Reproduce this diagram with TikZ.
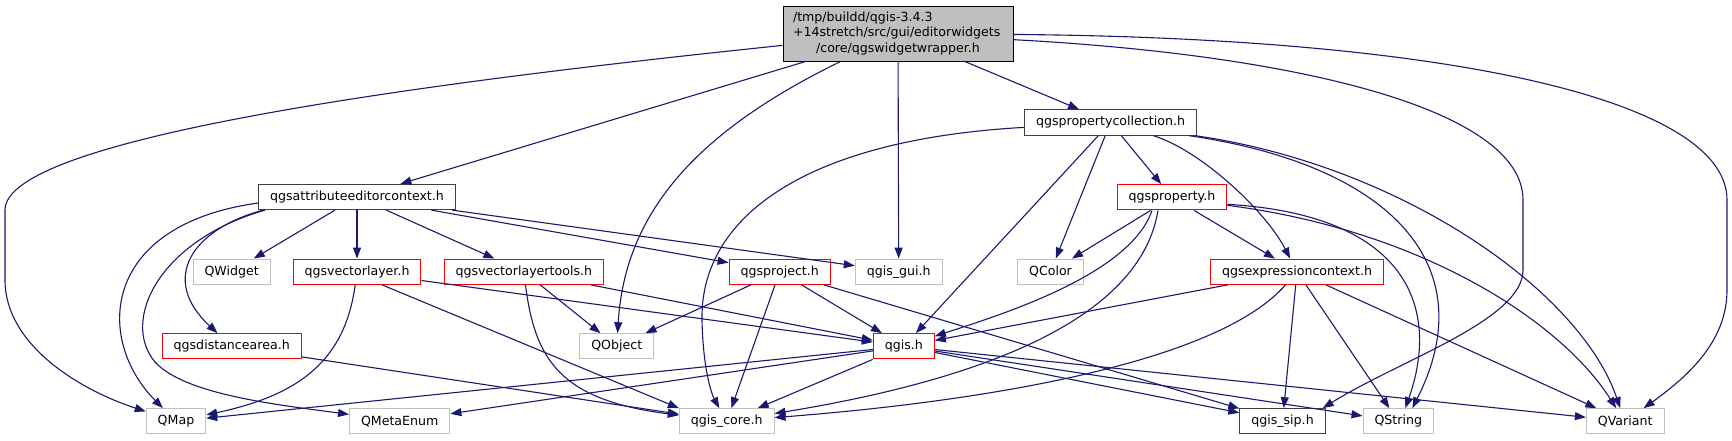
\documentclass[tikz,border=0pt]{standalone}
\usepackage{fontspec}
\setmainfont{DejaVu Sans}
\usetikzlibrary{arrows.meta}
\definecolor{edgeblue}{HTML}{191970}
\definecolor{boxgray}{HTML}{BFBFBF}
\definecolor{boxdark}{HTML}{404040}
\begin{document}
\begin{tikzpicture}[x=1pt,y=-1pt,
  filebox/.style={draw,fill=white,line width=1pt,inner xsep=11.5pt,inner ysep=0pt,minimum height=25.3pt,font=\fontsize{12.6}{15.5}\selectfont},
  gbox/.style={filebox,draw=boxgray},
  rbox/.style={filebox,draw=red},
  kbox/.style={filebox,draw=boxdark},
  incl/.style={draw=edgeblue,line width=1.1pt,-{Triangle[length=11pt,width=8pt]}}]
\useasboundingbox (0,0) rectangle (1732,440);
% files
\node[kbox,fill=boxgray,draw=black,align=left,text width=210pt,inner xsep=10pt,minimum height=55pt] (wrap) at (898,33.5) {/tmp/buildd/qgis-3.4.3\\+14stretch/src/gui/editorwidgets\\\makebox[210pt]{/core/qgswidgetwrapper.h}};
\node[kbox] (propcoll) at (1110.5,122.5) {qgspropertycollection.h};
\node[kbox] (attrctx) at (357,197) {qgsattributeeditorcontext.h};
\node[rbox] (prop) at (1172,197.3) {qgsproperty.h};
\node[gbox] (qwidget) at (231.7,271.7) {QWidget};
\node[rbox] (vlayer) at (357,271.7) {qgsvectorlayer.h};
\node[rbox] (vltools) at (523.8,271.7) {qgsvectorlayertools.h};
\node[rbox] (project) at (779.7,271.7) {qgsproject.h};
\node[gbox] (qgisgui) at (898.7,271.7) {qgis\_gui.h};
\node[gbox] (qcolor) at (1050.5,271.7) {QColor};
\node[rbox] (exprctx) at (1297,271.7) {qgsexpressioncontext.h};
\node[rbox] (distarea) at (231.7,346.3) {qgsdistancearea.h};
\node[gbox] (qobject) at (616.8,346.3) {QObject};
\node[rbox] (qgish) at (903.8,346.3) {qgis.h};
\node[gbox] (qmap) at (176,421.3) {QMap};
\node[gbox] (qmetaenum) at (399.7,421.3) {QMetaEnum};
\node[gbox] (qgiscore) at (726.7,421.3) {qgis\_core.h};
\node[kbox] (qgissip) at (1282.5,421.3) {qgis\_sip.h};
\node[gbox] (qstring) at (1398.3,421.3) {QString};
\node[gbox] (qvariant) at (1625.2,421.3) {QVariant};
% straight includes
\foreach \a/\b in {wrap/attrctx,wrap/qgisgui,wrap/propcoll,propcoll/qgish,propcoll/qcolor,propcoll/prop,
  attrctx/qwidget,attrctx/vlayer,attrctx/vltools,attrctx/project,attrctx/qgisgui,prop/qcolor,prop/exprctx,
  exprctx/qgish,exprctx/qgissip,exprctx/qstring,exprctx/qvariant,qgish/qmap,qgish/qmetaenum,qgish/qgiscore,
  qgish/qgissip,qgish/qstring,qgish/qvariant,project/qobject,project/qgiscore,project/qgish,project/qgissip,
  vltools/qobject,vltools/qgish,vlayer/qgish,distarea/qgiscore}
  \draw[incl] (\a) -- (\b);
\draw[incl] ([xshift=25pt]vlayer.south) -- (qgiscore.north west);
% curved includes
\draw[incl] (wrap) .. controls (400,85) and (5,140) .. (5,210) -- (5,280) .. controls (5,345) and (80,390) .. (qmap);
\draw[incl] (wrap) .. controls (700,130) and (625,210) .. (qobject);
\draw[incl] (wrap) .. controls (1300,55) and (1523,110) .. (1523,200) -- (1523,270) .. controls (1523,320) and (1400,360) .. ([xshift=-3pt]qgissip.north east);
\draw[incl] (wrap) .. controls (1450,38) and (1727,100) .. (1727,200) -- (1727,290) .. controls (1727,340) and (1690,375) .. (qvariant);
\draw[incl] (propcoll) .. controls (800,140) and (700,220) .. (702,320) .. controls (703,370) and (712,395) .. (qgiscore);
\draw[incl] (propcoll) .. controls (1200,150) and (1265,210) .. (exprctx);
\draw[incl] ([xshift=-8pt]propcoll.south east) .. controls (1390,165) and (1485,265) .. ([xshift=14pt]qstring.north);
\draw[incl] ([xshift=-2pt]propcoll.south east) .. controls (1400,165) and (1580,290) .. ([xshift=-5pt]qvariant.north);
\draw[incl] ([xshift=-20pt]prop.south) .. controls (1130,275) and (1000,315) .. (qgish);
\draw[incl] ([xshift=-14pt]prop.south) .. controls (1140,320) and (980,380) .. (qgiscore);
\draw[incl] ([yshift=-7pt]prop.east) .. controls (1410,215) and (1440,310) .. ([xshift=7pt]qstring.north);
\draw[incl] ([yshift=-8pt]prop.east) .. controls (1420,230) and (1560,320) .. ([xshift=-9pt]qvariant.north);
\draw[incl] (exprctx) .. controls (1220,360) and (1000,400) .. (qgiscore);
\draw[incl] (vltools) .. controls (535,360) and (560,400) .. (qgiscore);
\draw[incl] (vlayer) .. controls (345,360) and (300,395) .. (qmap);
\draw[incl] ([yshift=-6pt]attrctx.west) .. controls (100,225) and (95,340) .. (qmap);
\draw[incl] ([xshift=-92pt]attrctx.south) .. controls (160,240) and (120,320) .. (155,362) .. controls (185,395) and (280,405) .. (qmetaenum);
\draw[incl] ([xshift=-94pt]attrctx.south) .. controls (190,230) and (160,280) .. (distarea);
\end{tikzpicture}
\end{document}
